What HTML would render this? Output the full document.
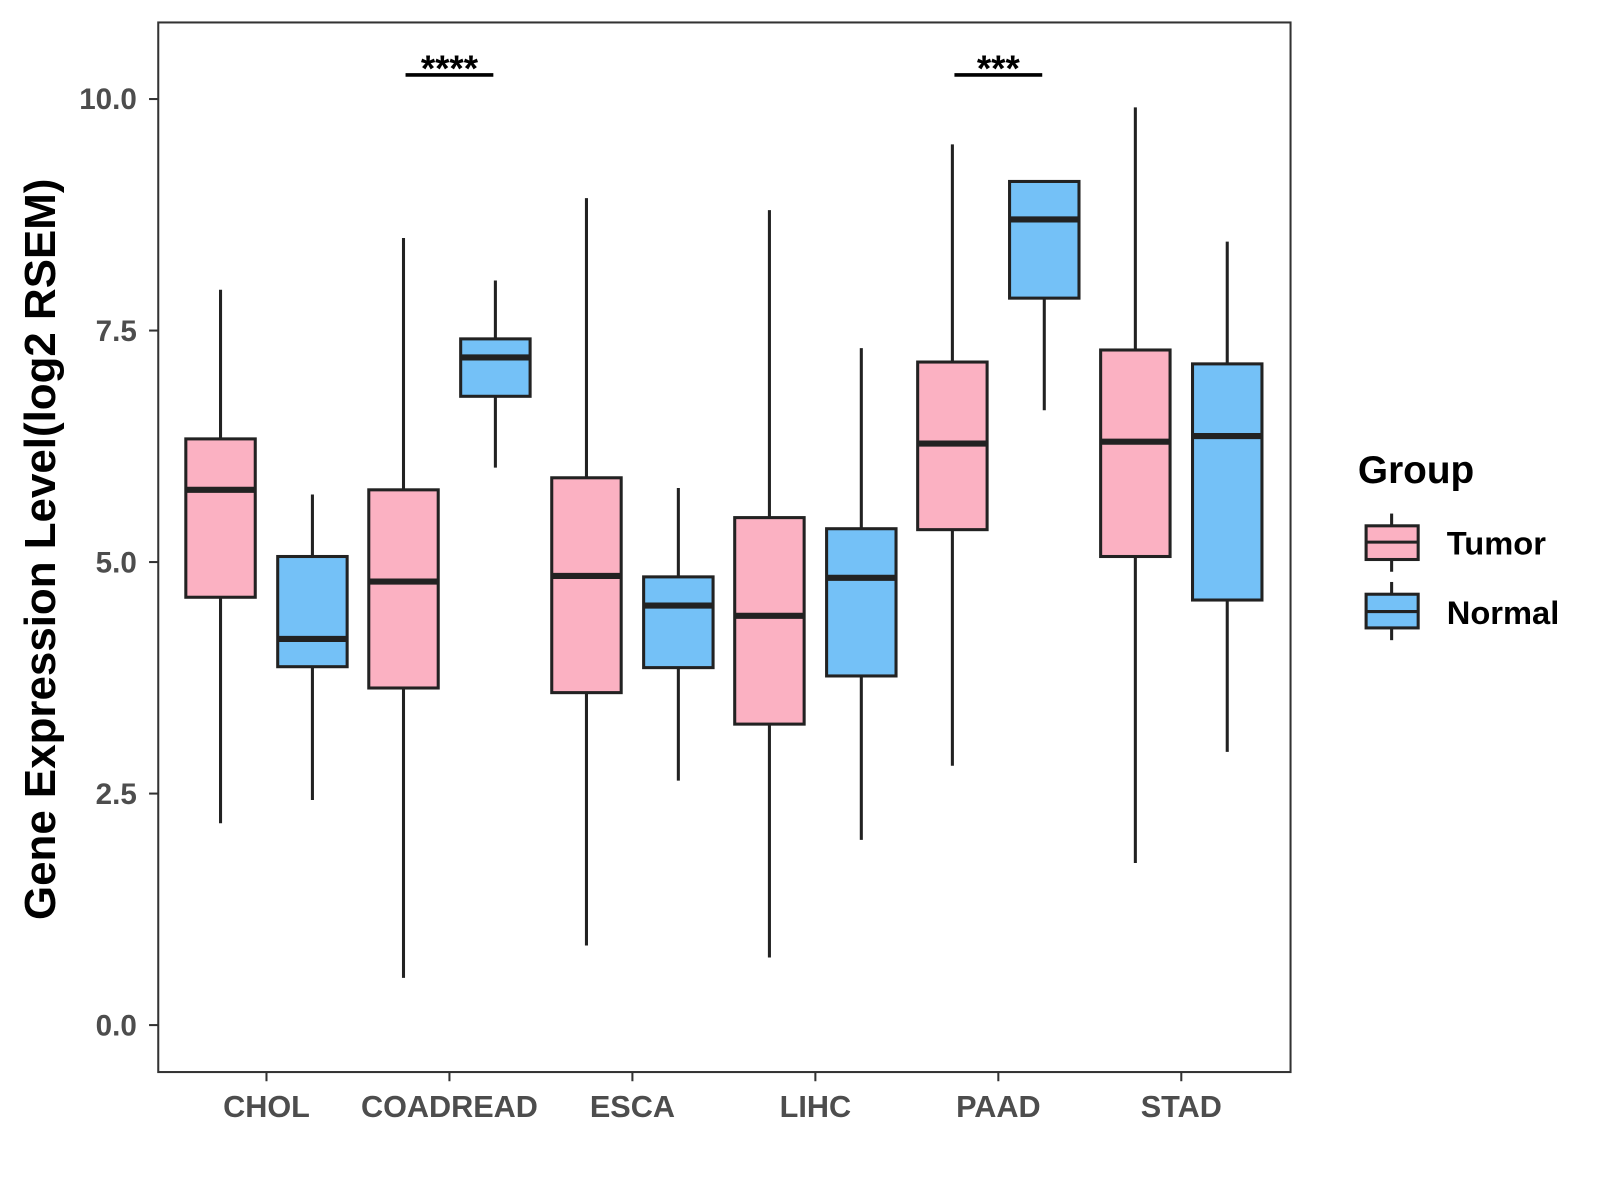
<!DOCTYPE html>
<html><head><meta charset="utf-8"><style>body{margin:0;background:#fff}svg{display:block}</style></head>
<body>
<svg id="chart" width="1600" height="1200" viewBox="0 0 1600 1200" xmlns="http://www.w3.org/2000/svg" font-family="Liberation Sans, Arial, sans-serif">
<g transform="scale(1.021)">
<rect x="155" y="22" width="1109" height="1028" fill="#fff" stroke="#333" stroke-width="2"/>
<g id="marks"></g>
<g id="axes"></g>
<text transform="translate(54,538) rotate(-90)" text-anchor="middle" font-size="43" font-weight="bold" fill="#000">Gene Expression Level(log2 RSEM)</text>
<g>
<text x="1330" y="473" font-size="38" font-weight="bold" fill="#000">Group</text>
<g>
<line x1="1363" y1="503" x2="1363" y2="560" stroke="#222" stroke-width="3"/>
<rect x="1338" y="515" width="51" height="33" fill="#FBB1C2" stroke="#222" stroke-width="3"/>
<line x1="1338" y1="531" x2="1389" y2="531" stroke="#222" stroke-width="3"/>
<text x="1417" y="543" font-size="32" font-weight="bold" fill="#000">Tumor</text>
</g>
<g>
<line x1="1363" y1="570" x2="1363" y2="627" stroke="#222" stroke-width="3"/>
<rect x="1338" y="582" width="51" height="33" fill="#74C1F7" stroke="#222" stroke-width="3"/>
<line x1="1338" y1="599" x2="1389" y2="599" stroke="#222" stroke-width="3"/>
<text x="1417" y="611" font-size="32" font-weight="bold" fill="#000">Normal</text>
</g>
</g>
</g>
</svg>
<script>
const categories = ["CHOL","COADREAD","ESCA","LIHC","PAAD","STAD"];
const groups = ["Tumor","Normal"];
const tumorStats = [
 [2.18,4.62,5.78,6.33,7.94],
 [0.51,3.64,4.79,5.78,8.50],
 [0.86,3.59,4.85,5.91,8.93],
 [0.73,3.25,4.42,5.48,8.80],
 [2.80,5.35,6.28,7.16,9.51],
 [1.75,5.06,6.30,7.29,9.91]
];
const normalStats = [
 [2.43,3.87,4.17,5.06,5.73],
 [6.02,6.79,7.21,7.41,8.04],
 [2.64,3.86,4.53,4.84,5.80],
 [2.00,3.77,4.83,5.36,7.31],
 [6.64,7.85,8.70,9.11,9.11],
 [2.95,4.59,6.36,7.14,8.46]
];
const yTicks = [0,2.5,5,7.5,10];
const yTickLabels = ["0.0","2.5","5.0","7.5","10.0"];
const signifCats = ["COADREAD","PAAD"];
const signifLabels = ["****","***"];
const signifY = 10.26;

const NS="http://www.w3.org/2000/svg";
function y(v){return 1004 - v*90.7;}
function x(i){return 261 + i*179.2;}
function mk(tag,attrs,parent){const e=document.createElementNS(NS,tag);for(const k in attrs)e.setAttribute(k,attrs[k]);parent.appendChild(e);return e;}
const marks=document.getElementById('marks'), axes=document.getElementById('axes');
const fills=["#FBB1C2","#74C1F7"];
[tumorStats,normalStats].forEach((series,gi)=>{
 series.forEach((s,i)=>{
  const cx=x(i)+(gi===0?-45:45);
  const g=mk('g',{},marks);
  
  
  mk('line',{x1:cx,x2:cx,y1:y(s[0]),y2:y(s[4]),stroke:'#222','stroke-width':3},g);
  mk('rect',{x:cx-34,y:y(s[3]),width:68,height:y(s[1])-y(s[3]),fill:fills[gi],stroke:'#222','stroke-width':3},g);
  mk('line',{x1:cx-34,x2:cx+34,y1:y(s[2]),y2:y(s[2]),stroke:'#222','stroke-width':6},g);
 });
});
yTicks.forEach((v,i)=>{
 mk('line',{x1:146,x2:155,y1:y(v),y2:y(v),stroke:'#333','stroke-width':2},axes);
 const t=mk('text',{x:134,y:y(v)+10,'text-anchor':'end','font-size':29,'font-weight':'bold',fill:'#4d4d4d'},axes);
 t.textContent=yTickLabels[i];
 
 
});
categories.forEach((c,i)=>{
 mk('line',{x1:x(i),x2:x(i),y1:1050,y2:1059,stroke:'#333','stroke-width':2},axes);
 const t=mk('text',{x:x(i),y:1094,'text-anchor':'middle','font-size':30,'font-weight':'bold',fill:'#4d4d4d'},axes);
 t.textContent=c;
 
 
});
signifCats.forEach((c,k)=>{
 const i=categories.indexOf(c);
 const g=mk('g',{},marks);
 
 
 mk('line',{x1:x(i)-43,x2:x(i)+43,y1:y(signifY),y2:y(signifY),stroke:'#000','stroke-width':3.5},g);
 const t=mk('text',{x:x(i),y:y(signifY)+6,'text-anchor':'middle','font-size':36,'font-weight':'bold',fill:'#000'},g);
 t.textContent=signifLabels[k];
});
</script>
</body></html>
